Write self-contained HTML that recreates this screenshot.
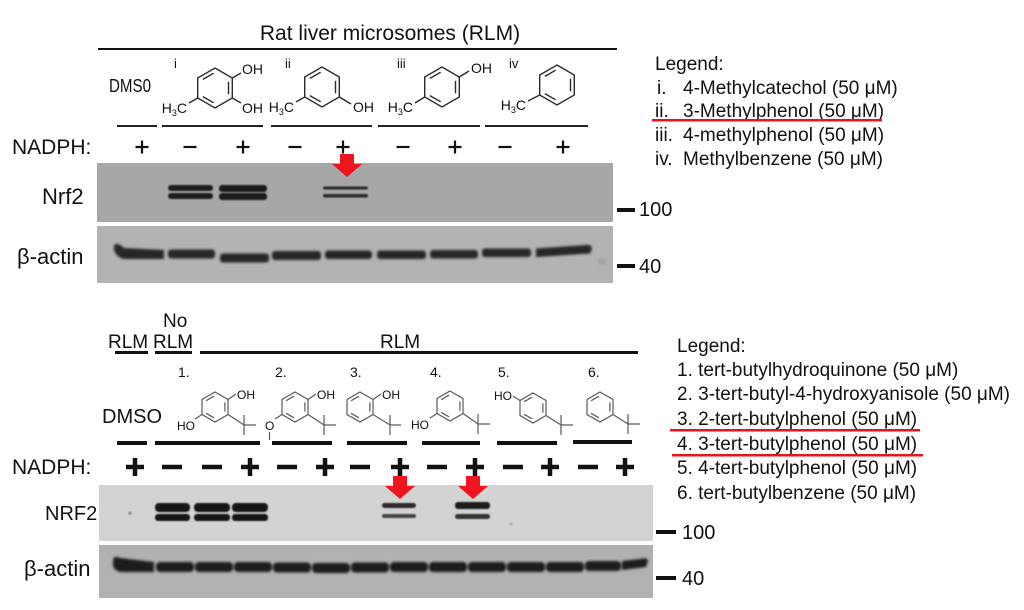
<!DOCTYPE html>
<html><head><meta charset="utf-8"><style>
html,body{margin:0;padding:0;background:#fff;width:1024px;height:610px;overflow:hidden}
svg{display:block}
text{font-family:"Liberation Sans",Arial,sans-serif;fill:#111}
</style></head><body>
<svg width="1024" height="610" viewBox="0 0 1024 610" xmlns="http://www.w3.org/2000/svg">
<defs>
 <filter id="b" x="-20%" y="-100%" width="140%" height="300%"><feGaussianBlur stdDeviation="0.9"/></filter>
 <filter id="b2" x="-20%" y="-100%" width="140%" height="300%"><feGaussianBlur stdDeviation="1.3"/></filter>
 <g id="r20"><polygon points="0,-20 17.3,-10 17.3,10 0,20 -17.3,10 -17.3,-10" fill="none"/><path d="M13.5,-6.2L13.5,6.2M-1.35,14.8L-12.15,8.6M-12.15,-8.6L-1.35,-14.8" fill="none"/></g>
 <g id="r15"><polygon points="0,-15 13,-7.5 13,7.5 0,15 -13,7.5 -13,-7.5" fill="none"/><path d="M9.9,-4.6L9.9,4.6M-1,10.8L-8.9,6.3M-8.9,-6.3L-1,-10.8" fill="none"/></g>
</defs>

<!-- ===== TOP PANEL ===== -->
<text x="390" y="40" font-size="21" text-anchor="middle">Rat liver microsomes (RLM)</text>
<rect x="98" y="48" width="519" height="2" fill="#111"/>

<text x="174" y="68" font-size="13" fill="#333">i</text>
<text x="285" y="68" font-size="13" fill="#333">ii</text>
<text x="397" y="68" font-size="13" fill="#333">iii</text>
<text x="509" y="68" font-size="13" fill="#333">iv</text>

<text x="109" y="92" font-size="18" textLength="42" lengthAdjust="spacingAndGlyphs">DMS0</text>

<g stroke="#2a2a2a" stroke-width="1.4" fill="none">
 <use href="#r20" x="215" y="88"/>
 <path d="M232.3,78L241,73M232.3,98L241,103M197.7,98L189,103"/>
 <use href="#r20" x="322" y="87"/>
 <path d="M304.7,97L296,102M339.3,97L351,104"/>
 <use href="#r20" x="442" y="87"/>
 <path d="M459.3,77L469,71M424.7,97L415,103"/>
 <use href="#r20" x="557" y="85"/>
 <path d="M539.7,95L528,101"/>
</g>
<g font-size="14" fill="#222">
 <text x="242" y="74">OH</text>
 <text x="242" y="113">OH</text>
 <text x="187" y="113" text-anchor="end">H<tspan font-size="9" dy="3">3</tspan><tspan dy="-3">C</tspan></text>
 <text x="294" y="112" text-anchor="end">H<tspan font-size="9" dy="3">3</tspan><tspan dy="-3">C</tspan></text>
 <text x="353" y="112">OH</text>
 <text x="471" y="73">OH</text>
 <text x="413" y="112" text-anchor="end">H<tspan font-size="9" dy="3">3</tspan><tspan dy="-3">C</tspan></text>
 <text x="526" y="110" text-anchor="end">H<tspan font-size="9" dy="3">3</tspan><tspan dy="-3">C</tspan></text>
</g>

<g fill="#222">
 <rect x="117" y="125" width="40" height="2"/>
 <rect x="162" y="125" width="101" height="2"/>
 <rect x="271" y="125" width="101" height="2"/>
 <rect x="378" y="125" width="102" height="2"/>
 <rect x="485" y="125" width="103" height="2"/>
</g>

<text x="12" y="154" font-size="21">NADPH:</text>
<g stroke="#111" stroke-width="2.2" fill="none">
 <path d="M135.5,147h13M142,140.5v13"/>
 <path d="M183.5,147h13"/>
 <path d="M236.5,147h13M243,140.5v13"/>
 <path d="M288.5,147h13"/>
 <path d="M336.5,147h13M343,140.5v13"/>
 <path d="M396.5,147h13"/>
 <path d="M448.5,147h13M455,140.5v13"/>
 <path d="M498.5,147h13"/>
 <path d="M556.5,147h13M563,140.5v13"/>
</g>

<!-- top blots -->
<rect x="97" y="163" width="516" height="59" fill="#a7a7a7"/>
<rect x="97" y="226" width="516" height="57" fill="#b3b3b3"/>
<g fill="#1a1a1a" filter="url(#b)">
 <rect x="168" y="185" width="45" height="6" rx="3"/>
 <rect x="168" y="193" width="45" height="6" rx="3"/>
 <rect x="219" y="185" width="48" height="7" rx="3"/>
 <rect x="219" y="193" width="48" height="7" rx="3"/>
 <rect x="323" y="186.5" width="45" height="3" rx="1.5" fill="#2a2a2a"/>
 <rect x="323" y="194" width="45" height="3.5" rx="1.5" fill="#2a2a2a"/>
</g>
<g fill="#262626" filter="url(#b2)">
 <path d="M114,245 Q118,242 124,248 L164,250 L164,259 L124,259 Q116,257 114,250 Z"/>
 <rect x="168" y="249.5" width="47" height="9" rx="3"/>
 <rect x="220" y="253.5" width="49" height="9" rx="3"/>
 <rect x="272" y="251" width="49" height="9" rx="3"/>
 <rect x="325" y="250.5" width="47" height="8.5" rx="3"/>
 <rect x="377" y="250.5" width="49" height="8.5" rx="3"/>
 <rect x="430" y="250" width="48" height="8.5" rx="3"/>
 <rect x="482" y="248.5" width="49" height="8.5" rx="3"/>
 <path d="M536,248.5 L586,245 Q592,244 592,249 L590,253.5 L536,257 Z"/>
 <rect x="598" y="258" width="8" height="7" rx="3" fill="#a0a0a0"/>
</g>
<path d="M340,154H354V164H362L347,177L332,164H340Z" fill="#f0141e"/>

<text x="42" y="204" font-size="22">Nrf2</text>
<text x="17" y="264" font-size="22">β-actin</text>

<rect x="617" y="208" width="18" height="4" fill="#111"/>
<text x="639" y="216" font-size="20">100</text>
<rect x="617" y="264" width="18" height="4" fill="#111"/>
<text x="639" y="273" font-size="20">40</text>

<!-- top legend -->
<g font-size="19">
 <text x="655" y="70">Legend:</text>
 <text x="657" y="94">i.</text><text x="683" y="94">4-Methylcatechol (50 μM)</text>
 <text x="655" y="117">ii.</text><text x="683" y="117">3-Methylphenol (50 μM)</text>
 <text x="655" y="141">iii.</text><text x="683" y="141">4-methylphenol (50 μM)</text>
 <text x="655" y="165">iv.</text><text x="683" y="165">Methylbenzene (50 μM)</text>
</g>
<rect x="652" y="119" width="230" height="2.5" fill="#e8141c"/>

<!-- ===== BOTTOM PANEL ===== -->
<g font-size="19">
 <text x="108" y="348">RLM</text>
 <text x="163" y="327">No</text>
 <text x="153" y="348">RLM</text>
 <text x="380" y="348">RLM</text>
</g>
<g fill="#111">
 <rect x="115" y="351" width="33" height="3"/>
 <rect x="155" y="351" width="37" height="3"/>
 <rect x="200" y="351" width="438" height="3"/>
</g>

<g font-size="14" fill="#444">
 <text x="178" y="377" fill="#444">1.</text>
 <text x="275" y="377" fill="#444">2.</text>
 <text x="350" y="377" fill="#444">3.</text>
 <text x="430" y="377" fill="#444">4.</text>
 <text x="498" y="377" fill="#444">5.</text>
 <text x="588" y="377" fill="#444">6.</text>
</g>

<text x="102" y="423" font-size="20">DMSO</text>

<g stroke="#5a5a5a" stroke-width="1.2" fill="none">
 <use href="#r15" x="215" y="407"/>
 <path d="M228,399.5L236,394M202,414.5L195,419M228,414.5L244,425M244,415V435M244,425H256"/>
 <use href="#r15" x="295" y="407"/>
 <path d="M308,399.5L316,394M308,414.5L324,425M324,415V435M324,425H336M282,414.5L275,419M269.5,432V440"/>
 <use href="#r15" x="360" y="407"/>
 <path d="M373,399.5L381,394M373,414.5L390,425M390,415V435M390,425H401"/>
 <use href="#r15" x="450" y="406"/>
 <path d="M437,413.5L430,418M463,413.5L478,424M478,414V434M478,424H490"/>
 <use href="#r15" x="533" y="408"/>
 <path d="M520,400.5L513,396M546,415.5L561,425M561,415V435M561,425H573"/>
 <use href="#r15" x="600" y="407"/>
 <path d="M613,414.5L628,424M628,414V434M628,424H640"/>
</g>
<g font-size="12" fill="#555">
 <text x="237" y="399" fill="#555">OH</text>
 <text x="195" y="430" text-anchor="end" fill="#555">HO</text>
 <text x="317" y="399" fill="#555">OH</text>
 <text x="265" y="430" fill="#555">O</text>
 <text x="382" y="399" fill="#555">OH</text>
 <text x="429" y="429" text-anchor="end" fill="#555">HO</text>
 <text x="512" y="400" text-anchor="end" fill="#555">HO</text>
</g>

<g fill="#111">
 <rect x="117" y="441" width="30" height="4"/>
 <rect x="155" y="441" width="105" height="4"/>
 <rect x="272" y="441" width="60" height="4"/>
 <rect x="347" y="441" width="60" height="4"/>
 <rect x="422" y="441" width="58" height="4"/>
 <rect x="497" y="441" width="60" height="4"/>
 <rect x="573" y="440" width="59" height="4"/>
</g>

<text x="12" y="474" font-size="21">NADPH:</text>
<g stroke="#111" stroke-width="4.5" fill="none">
 <path d="M126,467h18M135,458v18"/>
 <path d="M162,467h20"/>
 <path d="M202,467h20"/>
 <path d="M241,467h18M250,458v18"/>
 <path d="M277,467h20"/>
 <path d="M316,467h18M325,458v18"/>
 <path d="M350,467h20"/>
 <path d="M391,467h18M400,458v18"/>
 <path d="M427,467h20"/>
 <path d="M466,467h18M475,458v18"/>
 <path d="M503,467h20"/>
 <path d="M541,467h18M550,458v18"/>
 <path d="M578,467h20"/>
 <path d="M616,467h18M625,458v18"/>
</g>

<!-- bottom blots -->
<rect x="99" y="485" width="554" height="56" fill="#d3d3d3"/>
<rect x="99" y="545" width="554" height="53" fill="#b1b1b1"/>
<g fill="#141414" filter="url(#b)">
 <rect x="155" y="503" width="35" height="9" rx="4"/>
 <rect x="155" y="514" width="35" height="7" rx="3"/>
 <rect x="194" y="503" width="36" height="9" rx="4"/>
 <rect x="194" y="514" width="36" height="7" rx="3"/>
 <rect x="232" y="503" width="36" height="9" rx="4"/>
 <rect x="232" y="514" width="36" height="7" rx="3"/>
 <rect x="382" y="503" width="34" height="5" rx="2.5" fill="#2a2a2a"/>
 <rect x="382" y="514" width="34" height="4" rx="2" fill="#444"/>
 <rect x="455" y="502" width="35" height="7" rx="3" fill="#1c1c1c"/>
 <rect x="455" y="514" width="35" height="5" rx="2.5" fill="#333"/>
 <circle cx="130" cy="513" r="1.6" fill="#888"/>
 <circle cx="511" cy="524" r="1.3" fill="#999"/>
</g>
<g fill="#1c1c1c" filter="url(#b2)">
 <path d="M113,560 Q114,555 120,558 L154,562 L154,572 L120,572 Q114,570 113,566 Z"/>
 <rect x="156" y="562" width="38" height="10" rx="4"/>
 <rect x="195" y="562" width="38" height="10" rx="4"/>
 <rect x="234" y="562" width="38" height="10" rx="4"/>
 <rect x="273" y="562.5" width="38" height="10" rx="4"/>
 <rect x="312" y="563" width="38" height="10" rx="4"/>
 <rect x="351" y="562.5" width="38" height="10" rx="4"/>
 <rect x="390" y="562" width="38" height="10" rx="4"/>
 <rect x="429" y="562" width="38" height="10" rx="4"/>
 <rect x="468" y="562" width="38" height="10" rx="4"/>
 <rect x="507" y="562" width="38" height="10" rx="4"/>
 <rect x="546" y="562" width="38" height="10" rx="4"/>
 <rect x="585" y="561" width="36" height="10" rx="4"/>
 <path d="M622,561 L640,559 Q648,557 648,561 L646,567 L622,570 Z"/>
</g>
<path d="M393,476H407V486H415L400,499L385,486H393Z" fill="#f0141e"/>
<path d="M466,476H480V486H488L473,499L458,486H466Z" fill="#f0141e"/>

<text x="45" y="520" font-size="20">NRF2</text>
<text x="24" y="576" font-size="22">β-actin</text>

<rect x="656" y="530" width="20" height="4" fill="#111"/>
<text x="682" y="539" font-size="20">100</text>
<rect x="656" y="576" width="20" height="4" fill="#111"/>
<text x="682" y="585" font-size="20">40</text>

<!-- bottom legend -->
<g font-size="19">
 <text x="677" y="352">Legend:</text>
 <text x="677" y="376">1. tert-butylhydroquinone (50 μM)</text>
 <text x="677" y="400">2. 3-tert-butyl-4-hydroxyanisole (50 μM)</text>
 <text x="677" y="425">3. 2-tert-butylphenol (50 μM)</text>
 <text x="677" y="450">4. 3-tert-butylphenol (50 μM)</text>
 <text x="677" y="474">5. 4-tert-butylphenol (50 μM)</text>
 <text x="677" y="499">6. tert-butylbenzene (50 μM)</text>
</g>
<rect x="670" y="429" width="250" height="2.5" fill="#e8141c"/>
<rect x="672" y="454" width="251" height="2.5" fill="#e8141c"/>
</svg>
</body></html>
